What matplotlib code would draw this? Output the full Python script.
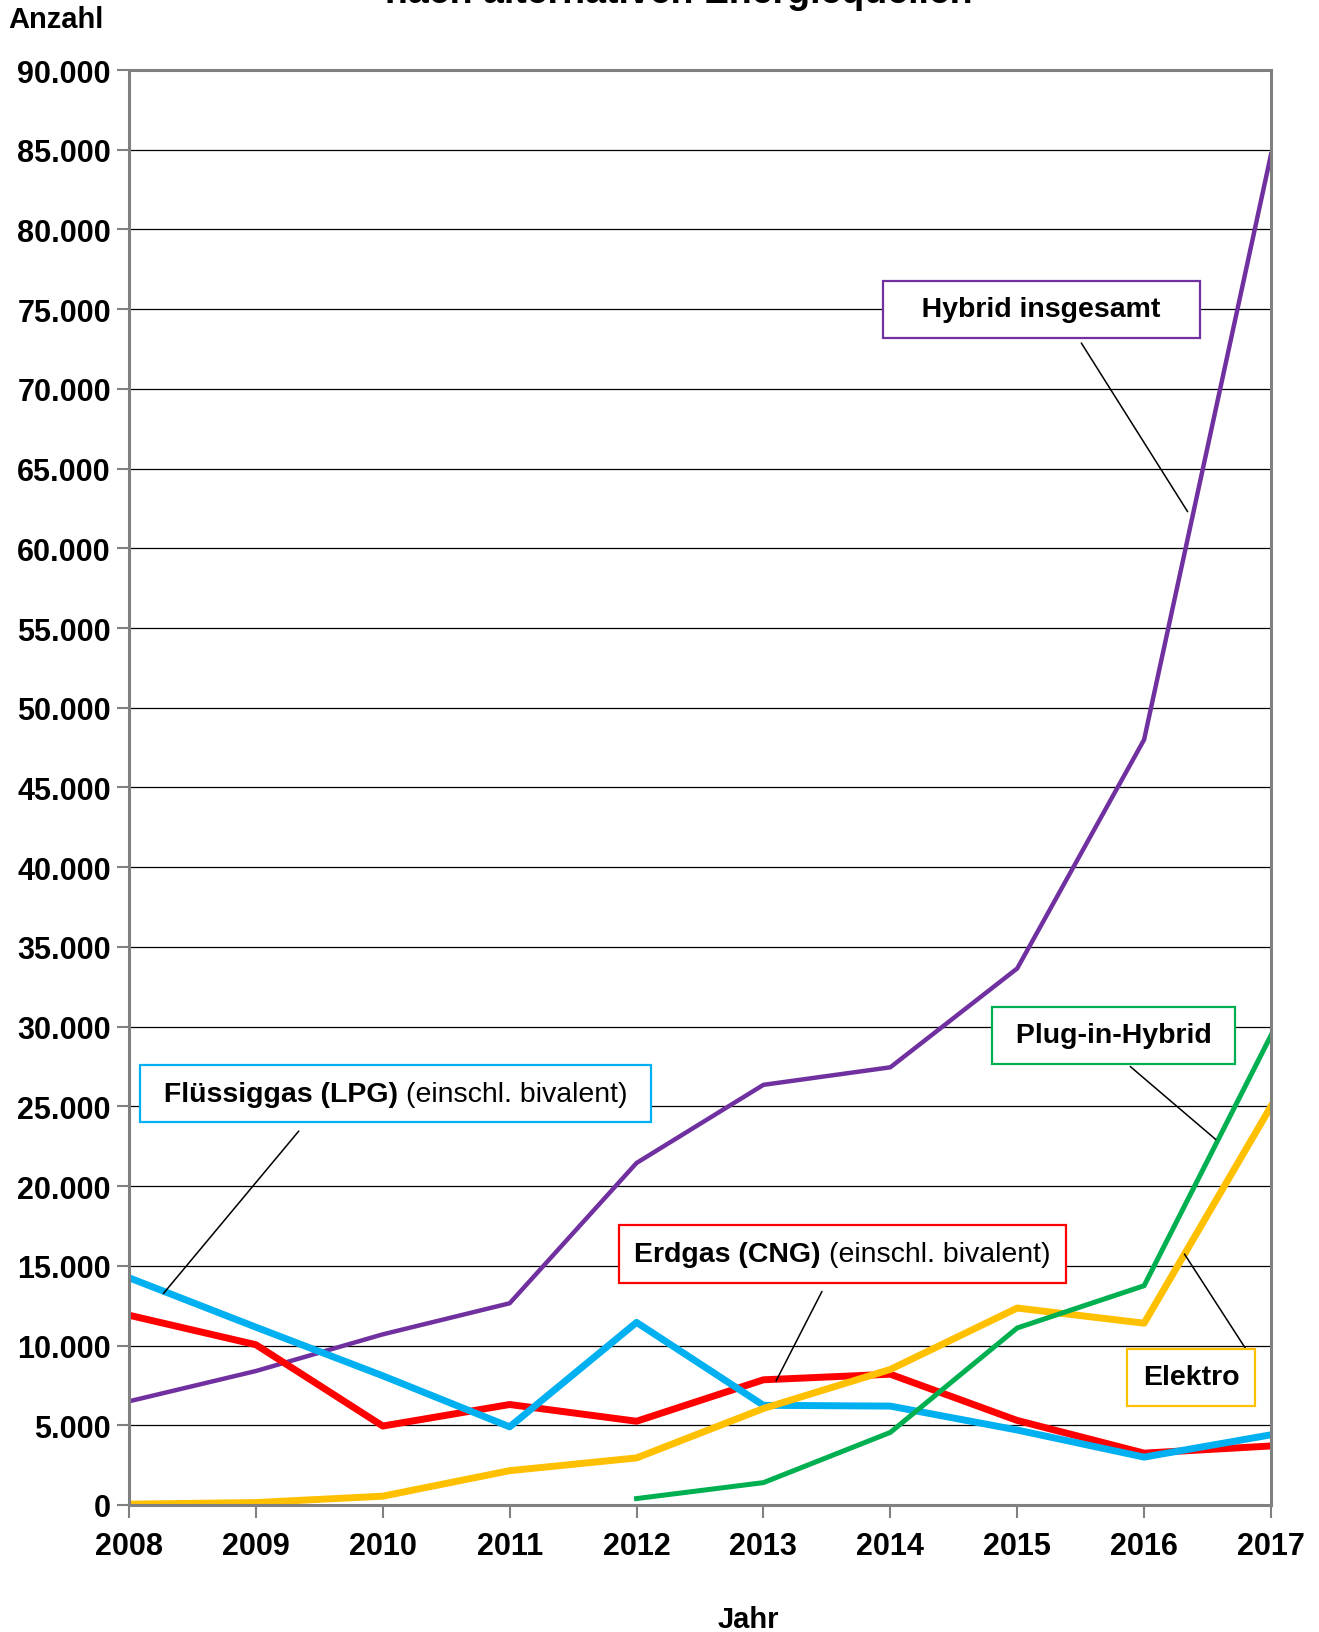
import matplotlib
matplotlib.use("Agg")
import matplotlib.pyplot as plt
from matplotlib.offsetbox import TextArea, HPacker, AnnotationBbox

plt.rcParams['font.family'] = ['Liberation Sans', 'DejaVu Sans']

years = [2008, 2009, 2010, 2011, 2012, 2013, 2014, 2015, 2016, 2017]
hybrid = [6500, 8400, 10700, 12650, 21450, 26350, 27450, 33650, 48000, 84700]
lpg = [14250, 11150, 8100, 4900, 11450, 6250, 6200, 4700, 3000, 4400]
cng = [11900, 10050, 4950, 6300, 5250, 7850, 8200, 5300, 3250, 3700]
elektro = [50, 150, 550, 2150, 2950, 6050, 8500, 12350, 11400, 25000]
plugin_years = [2012, 2013, 2014, 2015, 2016, 2017]
plugin = [400, 1400, 4550, 11100, 13750, 29450]

yticks = list(range(0, 90001, 5000))
ylabels = ['0'] + ['{:,}'.format(v).replace(',', '.') for v in yticks[1:]]

fig = plt.figure(figsize=(13.19, 16.33), dpi=100)
ax = fig.add_axes([0.0978, 0.0778, 0.8658, 0.8787])

ax.plot(years, hybrid, color='#7030A0', lw=3.2, zorder=3)
ax.plot(years, cng, color='#FF0000', lw=5, zorder=3)
ax.plot(years, lpg, color='#00B0F0', lw=5, zorder=3)
ax.plot(years, elektro, color='#FFC000', lw=5, zorder=3)
ax.plot(plugin_years, plugin, color='#00B050', lw=3.6, zorder=3)

ax.set_xlim(2008, 2017)
ax.set_ylim(0, 90000)
ax.set_yticks(yticks)
ax.set_yticklabels(ylabels)
ax.set_xticks(years)
ax.set_xticklabels([str(y) for y in years])
ax.grid(axis='y', color='black', lw=0.9, zorder=1)
ax.tick_params(axis='both', direction='out', length=9, width=1.5, color='#808080',
               labelsize=22)
ax.tick_params(axis='x', pad=10)
ax.tick_params(axis='y', pad=4)
for lab in ax.get_xticklabels() + ax.get_yticklabels():
    lab.set_fontweight('bold')
for s in ax.spines.values():
    s.set_color('#808080')
    s.set_linewidth(2.2)
    s.set_zorder(4)

fig.text(0.006, 0.988, 'Anzahl', fontsize=21, fontweight='bold', va='center')
fig.text(0.567, 0.008, 'Jahr', fontsize=21, fontweight='bold', ha='center', va='center')
# title is cut off at the top edge in the original
fig.text(0.5144, 0.9979, 'nach alternativen Energiequellen', fontsize=27,
         fontweight='bold', ha='center', va='baseline')


def label_box(parts, color, center, start, end):
    # leader line from the box edge to the series
    ax.annotate('', xy=end, xytext=start, xycoords='data',
                arrowprops=dict(arrowstyle='-', color='black', lw=1.1,
                                shrinkA=0, shrinkB=0), zorder=4)
    areas = [TextArea(t, textprops=dict(fontsize=20.5, fontweight=w, color='black'))
             for t, w in parts]
    box = HPacker(children=areas, align='baseline', pad=0, sep=0)
    ab = AnnotationBbox(box, center, xycoords='data', frameon=True,
                        fontsize=20.5, pad=0.55,
                        bboxprops=dict(edgecolor=color, facecolor='white', lw=1.6),
                        zorder=5)
    ax.add_artist(ab)


label_box([('   Hybrid insgesamt   ', 'bold')], '#7030A0',
          (2015.19, 75000), (2015.505, 72880), (2016.343, 62300))
label_box([(' Plug-in-Hybrid ', 'bold')], '#00B050',
          (2015.76, 29450), (2015.891, 27500), (2016.565, 22920))
label_box([(' Flüssiggas (LPG) ', 'bold'), ('(einschl. bivalent) ', 'normal')],
          '#00B0F0', (2010.10, 25800), (2009.338, 23450), (2008.271, 13260))
label_box([('Erdgas (CNG) ', 'bold'), ('(einschl. bivalent)', 'normal')],
          '#FF0000', (2013.62, 15740), (2013.461, 13390), (2013.099, 7770))
label_box([('Elektro', 'bold')], '#FFC000',
          (2016.37, 8000), (2016.811, 9670), (2016.318, 15740))

fig.savefig('out.png', dpi=100)
